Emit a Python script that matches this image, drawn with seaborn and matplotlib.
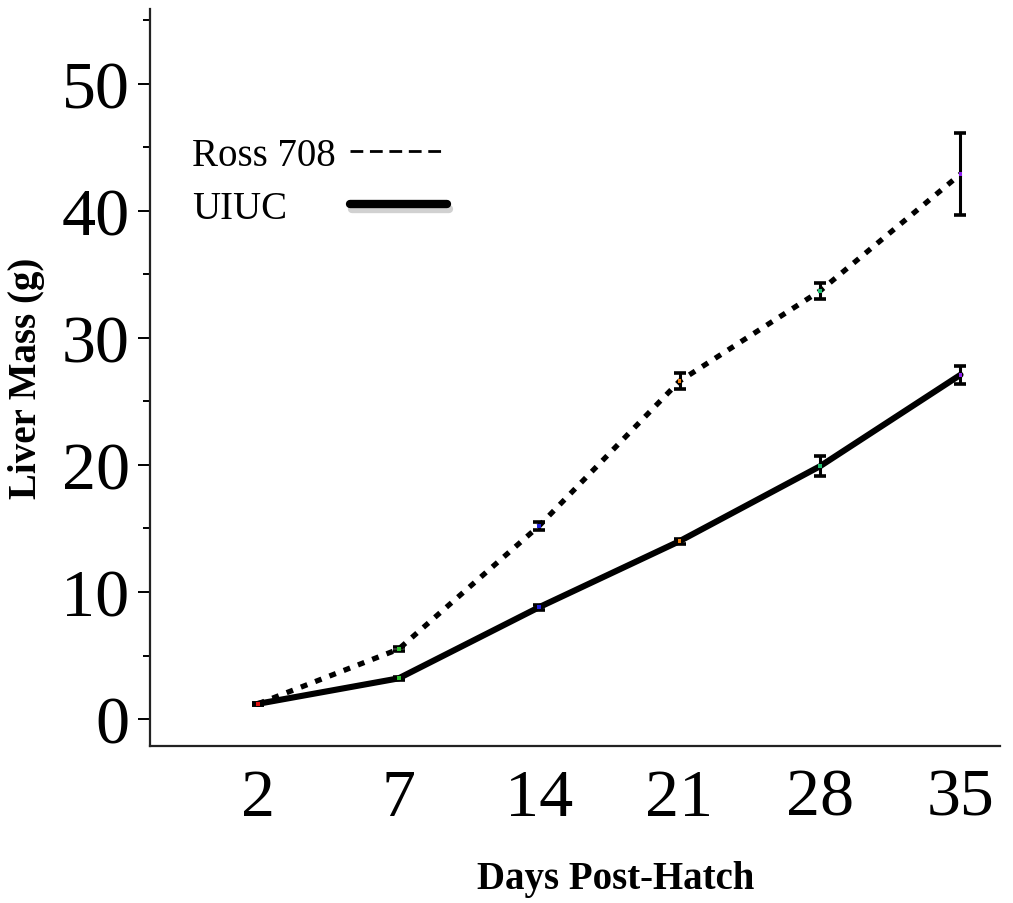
import matplotlib
matplotlib.use("Agg")
import matplotlib.pyplot as plt
import matplotlib.patheffects as pe
from matplotlib.lines import Line2D
from matplotlib.ticker import MultipleLocator
import numpy as np
import pandas as pd
import seaborn as sns

# Liver mass by age for two broiler lines
days = ["2", "7", "14", "21", "28", "35"]
ross_mass = [1.2, 5.5, 15.2, 26.6, 33.7, 42.9]
ross_err = [0.1, 0.15, 0.35, 0.65, 0.6, 3.25]
uiuc_mass = [1.2, 3.2, 8.8, 14.0, 19.9, 27.1]
uiuc_err = [0.1, 0.1, 0.2, 0.2, 0.8, 0.7]
day_colors = ["#e01010", "#30c030", "#2020e0", "#f08010", "#20c070", "#9020f0"]
series_names = ["Ross 708", "UIUC"]

pos = np.arange(len(days))
df = pd.DataFrame({
    "pos": np.concatenate([pos, pos]),
    "mass": ross_mass + uiuc_mass,
    "err": ross_err + uiuc_err,
    "line": [series_names[0]] * len(days) + [series_names[1]] * len(days),
})

sns.set_style("ticks")
plt.rcParams["font.family"] = ["Liberation Serif", "DejaVu Serif"]
plt.rcParams.update({"text.color": "black", "axes.labelcolor": "black",
                     "xtick.color": "black", "ytick.color": "black"})

fig = plt.figure(figsize=(10.13, 9.04), dpi=100)
ax = fig.add_axes([0.148, 0.174, 0.839, 0.815])

ross_df = df[df["line"] == series_names[0]]
uiuc_df = df[df["line"] == series_names[1]]

sns.lineplot(data=ross_df, x="pos", y="mass", ax=ax, color="black",
             linewidth=3.8, linestyle=(0, (1.3, 1.6)), dash_capstyle="butt",
             errorbar=None, legend=False)
sns.lineplot(data=uiuc_df, x="pos", y="mass", ax=ax, color="black",
             linewidth=4.4, errorbar=None, legend=False)

for sub in (ross_df, uiuc_df):
    ax.errorbar(sub["pos"], sub["mass"], yerr=sub["err"], fmt="none",
                ecolor="black", elinewidth=2.2, capsize=4.5, capthick=2.6, zorder=3)
    ax.scatter(sub["pos"], sub["mass"], c=day_colors, s=8, marker="s",
               linewidths=0, zorder=4)

ax.set_xlim(-0.77, 5.28)
ax.set_ylim(-2.1, 55.9)
ax.set_xticks(pos)
ax.set_xticklabels(days)
ax.yaxis.set_major_locator(MultipleLocator(10))
ax.yaxis.set_minor_locator(MultipleLocator(5))
ax.tick_params(axis="x", length=0, pad=16, labelsize=49)
ax.tick_params(axis="y", which="major", length=8.6, width=1.4, pad=6, labelsize=49)
ax.tick_params(axis="y", which="minor", length=5, width=1.4)
for side in ("top", "right"):
    ax.spines[side].set_visible(False)
for side in ("left", "bottom"):
    ax.spines[side].set_linewidth(1.6)
    ax.spines[side].set_color("#222222")

ax.set_xlabel("Days Post-Hatch", fontsize=28, fontweight="bold")
ax.xaxis.set_label_coords(0.548, -0.155)
ax.set_ylabel("Liver Mass (g)", fontsize=28, fontweight="bold", labelpad=12)

# Legend: labels in the first column, line samples in the second
blank = Line2D([], [], linestyle="none")
ross_handle = Line2D([], [], color="black", linewidth=2.0, linestyle=(0, (4.6, 2.4)))
uiuc_handle = Line2D([], [], color="black", linewidth=6.0,
                     path_effects=[pe.SimpleLineShadow(offset=(1.5, -3), shadow_color="#999999", alpha=0.45),
                                   pe.Normal()])
leg = ax.legend([blank, blank, ross_handle, uiuc_handle],
                [series_names[0], series_names[1], "", ""],
                ncol=2, frameon=False, fontsize=28, handlelength=2.5,
                handletextpad=0.0, columnspacing=0.36, labelspacing=0.42,
                loc="upper left", bbox_to_anchor=(-0.106, 0.874))

fig.savefig("out.png", dpi=100)
